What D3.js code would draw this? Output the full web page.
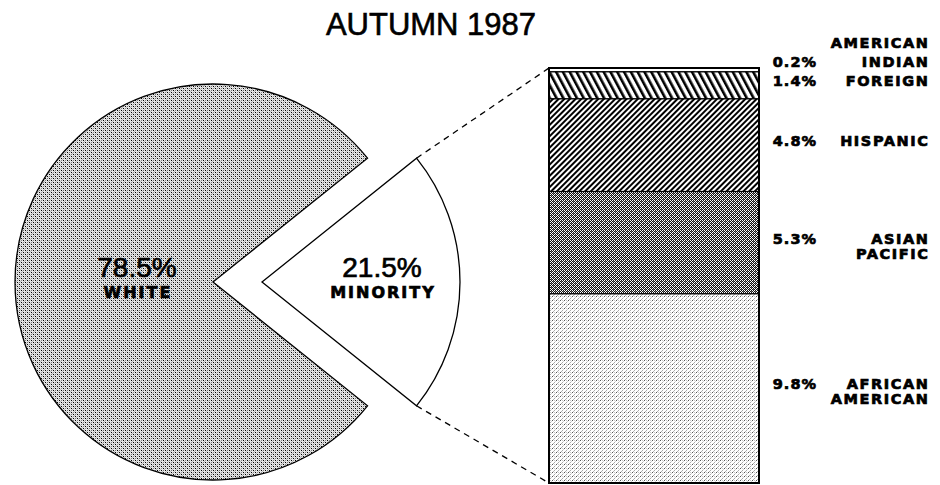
<!DOCTYPE html>
<meta charset="utf-8">
<script src="https://cdn.jsdelivr.net/npm/d3@7"></script>
<style>
body { margin: 0; background: #fff; }
</style>
<body>
<script>

// chart values
var title = "AUTUMN 1987";
var pieLabels = ["MINORITY", "WHITE"];
var pieValues = [21.5, 78.5];
var groups = ["AMERICAN INDIAN", "FOREIGN", "HISPANIC", "ASIAN PACIFIC", "AFRICAN AMERICAN"];
var groupValues = [0.2, 1.4, 4.8, 5.3, 9.8];

var width = 940,
    height = 485,
    cx = 213, cy = 282,       // pie centre
    radius = 198,
    explode = 49,             // how far the minority slice is pulled out
    barLeft = 549, barRight = 759,
    barTop = 68, barBottom = 483,
    pctX = 816, nameX = 928,
    boldFont = "'DejaVu Sans', Verdana, sans-serif",
    plainFont = "'Liberation Sans', Arial, sans-serif";

var svg = d3.select("body").append("svg")
    .attr("width", width)
    .attr("height", height);

// fill patterns, close to the old print screens
var defs = svg.append("defs");

function dotPattern(id, size, bg, dots) {
    var p = defs.append("pattern").attr("id", id)
        .attr("patternUnits", "userSpaceOnUse")
        .attr("width", size).attr("height", size);
    p.append("rect").attr("width", size).attr("height", size).attr("fill", bg);
    dots.forEach(function(d) {
        p.append("rect").attr("x", d[0]).attr("y", d[1])
            .attr("width", 1).attr("height", 1).attr("fill", d[2]);
    });
}

function linePattern(id, gap, lw, angle) {
    var p = defs.append("pattern").attr("id", id)
        .attr("patternUnits", "userSpaceOnUse")
        .attr("width", gap).attr("height", gap)
        .attr("patternTransform", "rotate(" + angle + ")");
    p.append("rect").attr("width", gap).attr("height", gap).attr("fill", "#fff");
    p.append("rect").attr("width", lw).attr("height", gap).attr("fill", "#000");
}

// white slice: medium stipple
dotPattern("stipple", 4, "#e6e6e6", [[0,0,"#000"],[2,2,"#000"],[2,0,"#7a7a7a"],[0,2,"#8a8a8a"],[1,1,"#bbb"],[3,3,"#bbb"]]);
// african american: light stipple
dotPattern("light", 4, "#ffffff", [[0,0,"#555"],[2,2,"#aaa"],[2,0,"#c8c8c8"],[1,3,"#b0b0b0"],[3,1,"#d0d0d0"]]);
// asian pacific: dark checker
dotPattern("dark", 4, "#111111", [[0,0,"#fff"],[2,0,"#fff"],[1,1,"#777"],[3,1,"#fff"],[0,2,"#fff"],[2,2,"#fff"],[1,3,"#fff"],[3,3,"#777"]]);
// hispanic: fine forward hatch
linePattern("hatchFine", 4, 2, 45);
// foreign: wider back hatch
linePattern("hatchWide", 6, 2.6, -28);

var segFills = ["#fff", "url(#hatchWide)", "url(#hatchFine)", "url(#dark)", "url(#light)"];
var pieFills = ["#fff", "url(#stipple)"];

// heavy label text, the old plotter font is thick
function heavy(sel, size, ls) {
    return sel.style("font-family", boldFont)
        .style("font-weight", "bold")
        .style("font-size", size + "px")
        .style("letter-spacing", ls + "px")
        .attr("stroke", "#000")
        .attr("stroke-width", 0.7);
}

// title
svg.append("text")
    .attr("x", 431).attr("y", 35)
    .attr("text-anchor", "middle")
    .style("font-family", plainFont)
    .style("font-size", "31px")
    .attr("stroke", "#000")
    .attr("stroke-width", 0.6)
    .text(title);

// pie with the minority slice pulled out to the right
var share = pieValues[0] / d3.sum(pieValues);
var pie = d3.pie().sort(null)
    .startAngle(Math.PI / 2 - Math.PI * share)
    .endAngle(Math.PI / 2 - Math.PI * share + 2 * Math.PI);
var arc = d3.arc().innerRadius(0).outerRadius(radius);
var slices = pie(pieValues);

var sliceG = svg.selectAll(".slice").data(slices)
  .enter().append("g")
    .attr("class", "slice")
    .attr("transform", function(d, i) {
        return "translate(" + (cx + (i === 0 ? explode : 0)) + "," + cy + ")"; });

sliceG.append("path")
    .attr("d", arc)
    .attr("fill", function(d, i) { return pieFills[i]; })
    .attr("stroke", "#000")
    .attr("stroke-width", 1.3);

// label distance from slice tip
var labelDist = [120, 76];
sliceG.each(function(d, i) {
    var mid = (d.startAngle + d.endAngle) / 2,
        lx = Math.sin(mid) * labelDist[i],
        ly = -Math.cos(mid) * labelDist[i],
        g = d3.select(this);
    g.append("text")
        .attr("x", lx).attr("y", ly - 5)
        .attr("text-anchor", "middle")
        .style("font-family", plainFont)
        .style("font-size", "28px")
        .attr("stroke", "#000")
        .attr("stroke-width", 0.7)
        .text(d3.format(".1f")(d.data) + "%");
    g.append("text")
        .attr("x", lx + 1).attr("y", ly + 16)
        .attr("text-anchor", "middle")
        .call(heavy, 16, 2)
        .text(pieLabels[i]);
});

// stacked bar of the minority groups
var y = d3.scaleLinear()
    .domain([0, d3.sum(groupValues)])
    .range([barTop, barBottom]);
var ends = d3.cumsum(groupValues);
var segs = groupValues.map(function(v, i) {
    return {name: groups[i], value: v, y0: ends[i] - v, y1: ends[i], fill: segFills[i]};
});

// dashed leaders from slice corners to the bar
var mSlice = slices[0];
[[mSlice.startAngle, 0], [mSlice.endAngle, d3.sum(groupValues)]].forEach(function(p) {
    svg.append("line")
        .attr("x1", cx + explode + Math.sin(p[0]) * radius)
        .attr("y1", cy - Math.cos(p[0]) * radius)
        .attr("x2", barLeft)
        .attr("y2", y(p[1]))
        .attr("stroke", "#000")
        .attr("stroke-width", 1.3)
        .attr("stroke-dasharray", "6,5");
});

svg.selectAll(".seg").data(segs)
  .enter().append("rect")
    .attr("class", "seg")
    .attr("x", barLeft)
    .attr("y", function(d) { return y(d.y0); })
    .attr("width", barRight - barLeft)
    .attr("height", function(d) { return y(d.y1) - y(d.y0); })
    .attr("fill", function(d) { return d.fill; })
    .attr("stroke", "#000")
    .attr("stroke-width", 1.2);

svg.append("rect")
    .attr("x", barLeft).attr("y", y(0))
    .attr("width", barRight - barLeft)
    .attr("height", y(d3.sum(groupValues)) - y(0))
    .attr("fill", "none")
    .attr("stroke", "#000")
    .attr("stroke-width", 2);

// bar labels: baseline near the middle of each block, pushed up if they crowd
var base = segs.map(function(d) { return (y(d.y0) + y(d.y1)) / 2 + 1; });
for (var i = base.length - 2; i >= 0; i--) {
    base[i] = Math.min(base[i], base[i + 1] - 19);
}

segs.forEach(function(d, i) {
    var lines = d.name.split(" "),
        ls = 1.6;
    svg.append("text")
        .attr("x", pctX + 1).attr("y", base[i])
        .attr("text-anchor", "end")
        .call(heavy, 14.5, 1)
        .text(d3.format(".1f")(d.value) + "%");
    lines.forEach(function(t, j) {
        // top block stacks upward, the others hang below the value
        var ly = i === 0 ? base[i] - (lines.length - 1 - j) * 19 : base[i] + j * 15;
        svg.append("text")
            .attr("x", nameX + ls).attr("y", ly)
            .attr("text-anchor", "end")
            .call(heavy, 14.5, ls)
            .text(t);
    });
});

</script>
</body>
